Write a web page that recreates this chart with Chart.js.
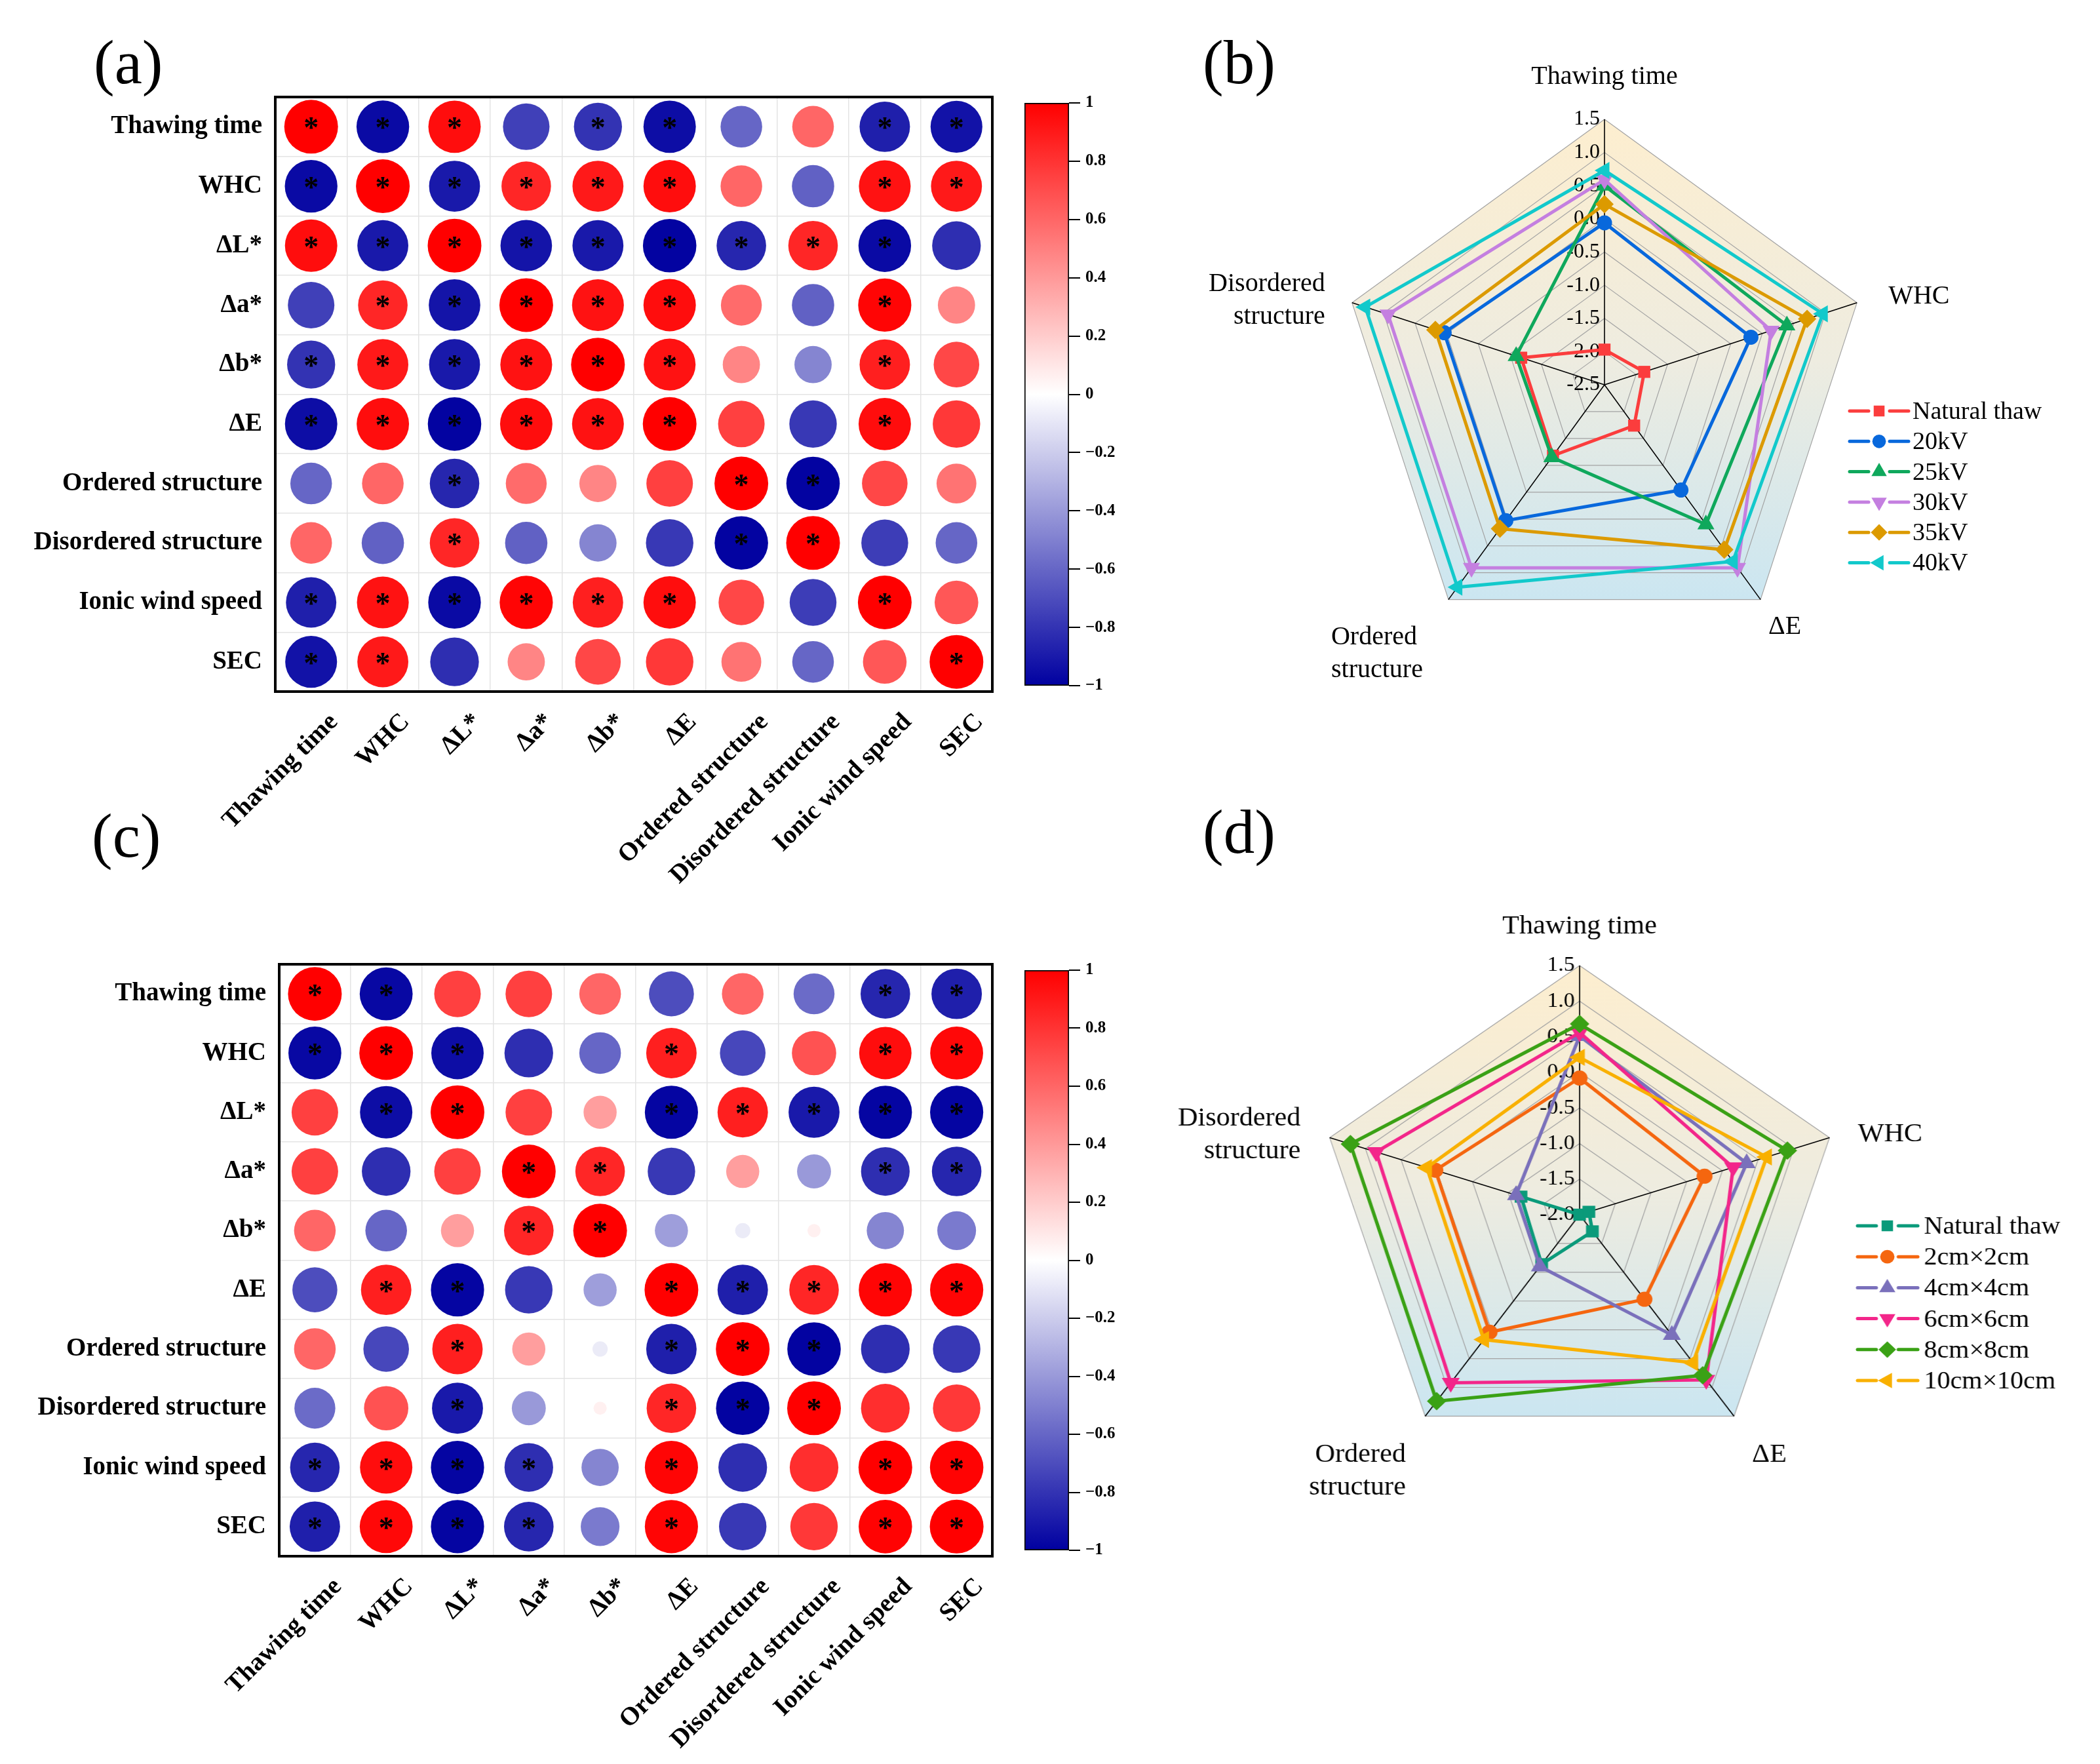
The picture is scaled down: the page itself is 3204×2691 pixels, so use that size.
<!DOCTYPE html>
<html>
<head>
<meta charset="utf-8">
<script src="https://cdn.jsdelivr.net/npm/chart.js@4.4.1/dist/chart.umd.min.js"></script>
<style>
  html, body { margin: 0; padding: 0; background: #fff; }
  body { width: 3204px; height: 2691px; position: relative; overflow: hidden;
         font-family: "Liberation Serif", "Times New Roman", serif; }
  canvas { position: absolute; }
  .tag { position: absolute; font-size: 95px; line-height: 95px; color: #000; }
</style>
</head>
<body>
<div class="tag" style="left:143px;top:48px">(a)</div>
<div class="tag" style="left:1835px;top:48px">(b)</div>
<div class="tag" style="left:140px;top:1228px">(c)</div>
<div class="tag" style="left:1835px;top:1222px">(d)</div>

<canvas id="matA" width="1555" height="1420" style="left:0;top:0"></canvas>
<canvas id="barA" width="180" height="960" style="left:1555px;top:120px"></canvas>
<canvas id="matC" width="1555" height="1361" style="left:0;top:1330px"></canvas>
<canvas id="barC" width="180" height="960" style="left:1555px;top:1443px"></canvas>
<canvas id="radB" width="1424" height="1060" style="left:1780px;top:40px"></canvas>
<canvas id="radD" width="1424" height="1000" style="left:1780px;top:1340px;transform:scaleX(1.055);transform-origin:630px 50%"></canvas>

<script>
/* ---- correlation matrices (a) and (c) ---- */
const vars = ['Thawing time', 'WHC', 'ΔL*', 'Δa*', 'Δb*', 'ΔE',
  'Ordered structure', 'Disordered structure', 'Ionic wind speed', 'SEC'];

const corrA = [
  [ 1.00, -0.96,  0.95, -0.75, -0.80, -0.95, -0.60,  0.60, -0.88, -0.93],
  [-0.96,  1.00, -0.90,  0.85,  0.90,  0.95,  0.60, -0.62,  0.93,  0.90],
  [ 0.95, -0.90,  1.00, -0.92, -0.90, -0.99, -0.85,  0.85, -0.96, -0.82],
  [-0.75,  0.85, -0.92,  1.00,  0.93,  0.95,  0.58, -0.62,  0.98,  0.48],
  [-0.80,  0.90, -0.90,  0.93,  1.00,  0.93,  0.48, -0.48,  0.88,  0.72],
  [-0.95,  0.95, -0.99,  0.95,  0.93,  1.00,  0.75, -0.78,  0.95,  0.78],
  [-0.60,  0.60, -0.85,  0.58,  0.48,  0.75,  1.00, -0.99,  0.72,  0.55],
  [ 0.60, -0.62,  0.85, -0.62, -0.48, -0.78, -0.99,  1.00, -0.76, -0.60],
  [-0.88,  0.93, -0.96,  0.98,  0.88,  0.95,  0.72, -0.76,  1.00,  0.66],
  [-0.93,  0.90, -0.82,  0.48,  0.72,  0.78,  0.55, -0.60,  0.66,  1.00],
];
const sigA = ['***.**..**', '******..**', '*********.', '.*****..*.', '******..*.',
  '******..*.', '..*...**..', '..*...**..', '******..*.', '**.......*'];

const corrC = [
  [ 1.00, -0.97,  0.75,  0.75,  0.60, -0.70,  0.60, -0.58, -0.85, -0.88],
  [-0.97,  1.00, -0.95, -0.82, -0.60,  0.88, -0.72,  0.68,  0.95,  0.97],
  [ 0.75, -0.95,  1.00,  0.75,  0.38, -0.98,  0.88, -0.90, -0.98, -0.98],
  [ 0.75, -0.82,  0.75,  1.00,  0.85, -0.78,  0.38, -0.40, -0.82, -0.85],
  [ 0.60, -0.60,  0.38,  0.85,  1.00, -0.38, -0.08,  0.06, -0.48, -0.52],
  [-0.70,  0.88, -0.98, -0.78, -0.38,  1.00, -0.88,  0.85,  0.98,  0.98],
  [ 0.60, -0.72,  0.88,  0.38, -0.08, -0.88,  1.00, -0.99, -0.82, -0.78],
  [-0.58,  0.68, -0.90, -0.40,  0.06,  0.85, -0.99,  1.00,  0.82,  0.78],
  [-0.85,  0.95, -0.98, -0.82, -0.48,  0.98, -0.82,  0.82,  1.00,  0.99],
  [-0.88,  0.97, -0.98, -0.85, -0.52,  0.98, -0.78,  0.78,  0.99,  1.00],
];
const sigC = ['**......**', '***..*..**', '.**..*****', '...**...**', '...**.....',
  '.**..*****', '..*..***..', '..*..***..', '****.*..**', '****.*..**'];

const cbarTicks = [1, 0.8, 0.6, 0.4, 0.2, 0, -0.2, -0.4, -0.6, -0.8, -1];

/* ---- radar (b): voltage ---- */
const radarAxes = ['Thawing time', 'WHC', 'ΔE', ['Ordered', 'structure'], ['Disordered', 'structure']];
const seriesB = ['Natural thaw', '20kV', '25kV', '30kV', '35kV', '40kV'];
const natThawB = [-1.97, -1.87, -1.74, -1.18, -1.18];
const kv20 = [-0.06, -0.18, -0.54, 0.03, 0.04];
const kv25 = [0.50, 0.39, 0.10, -1.15, -1.10];
const kv30 = [0.59, 0.14, 0.91, 0.91, 0.93];
const kv35 = [0.22, 0.71, 0.57, 0.18, 0.18];
const kv40 = [0.73, 0.96, 0.79, 1.27, 1.29];

/* ---- radar (d): sample size ---- */
const seriesD = ['Natural thaw', '2cm×2cm', '4cm×4cm', '6cm×6cm', '8cm×8cm', '10cm×10cm'];
const natThawD = [-2.0, -1.87, -1.71, -1.14, -1.18];
const cm2 = [-0.08, -0.25, -0.53, 0.04, 0.02];
const cm4 = [0.51, 0.34, 0.09, -1.10, -1.11];
const cm6 = [0.56, 0.15, 0.87, 0.92, 0.85];
const cm8 = [0.68, 0.91, 0.79, 1.24, 1.21];
const cm10 = [0.21, 0.62, 0.57, 0.17, 0.14];

Chart.defaults.font.family = '"Liberation Serif", "Times New Roman", serif';
Chart.defaults.color = '#000';

const SERIF = '"Liberation Serif", "Times New Roman", serif';
const MAX_R = 41;

function corrColor(v) {
  const t = Math.min(1, Math.abs(v));
  const w = Math.round(255 * (1 - t));
  if (v >= 0) return `rgb(255,${w},${w})`;
  return `rgb(${w},${w},${Math.round(255 - 95 * t)})`;
}

const corrDecor = {
  id: 'corrDecor',
  afterDatasetsDraw(chart) {
    const ctx = chart.ctx, a = chart.chartArea;
    const pts = chart.data.datasets[0].data;
    ctx.save();
    ctx.font = `bold 46px ${SERIF}`;
    ctx.textAlign = 'center';
    ctx.textBaseline = 'alphabetic';
    ctx.fillStyle = '#000';
    chart.getDatasetMeta(0).data.forEach((el, k) => {
      if (pts[k].s) ctx.fillText('*', el.x, el.y + 17);
    });
    ctx.lineWidth = 4;
    ctx.strokeStyle = '#000';
    ctx.strokeRect(a.left, a.top, a.width, a.height);
    ctx.restore();
  }
};

function matrixChart(id, corr, sig, pad, axisW) {
  const pts = [];
  corr.forEach((row, i) => row.forEach((v, j) => {
    pts.push({ x: vars[j], y: vars[i], r: MAX_R * Math.sqrt(Math.abs(v)), v, s: sig[i][j] === '*' });
  }));
  const tickFont = { family: SERIF, weight: 'bold', size: 39 };
  const grid = { offset: true, color: '#e4e4e4', lineWidth: 1.5, drawTicks: false };
  new Chart(document.getElementById(id), {
    type: 'bubble',
    data: { datasets: [{
      data: pts,
      backgroundColor: (c) => corrColor(c.raw.v),
      borderWidth: 0,
      hoverRadius: 0,
    }] },
    options: {
      responsive: false, animation: false, devicePixelRatio: 1,
      layout: { padding: pad },
      plugins: { legend: { display: false }, tooltip: { enabled: false } },
      scales: {
        x: {
          type: 'category', labels: vars, offset: true, grid, border: { display: false },
          ticks: { autoSkip: false, minRotation: 45, maxRotation: 45, padding: 24, labelOffset: 35,
            color: '#000', font: tickFont },
          afterFit: (s) => { s.height = 300; },
        },
        y: {
          type: 'category', labels: vars, offset: true, grid, border: { display: false },
          ticks: { autoSkip: false, padding: 20, color: '#000', font: tickFont },
          afterFit: (s) => { s.width = axisW; },
        },
      },
    },
    plugins: [corrDecor],
  });
}

function colorBar(id, pad) {
  new Chart(document.getElementById(id), {
    type: 'bar',
    data: { labels: [''], datasets: [{
      data: [[-1, 1]],
      backgroundColor: (c) => {
        const chart = c.chart;
        if (!chart.chartArea) return '#fff';
        const y = chart.scales.y;
        const g = chart.ctx.createLinearGradient(0, y.getPixelForValue(1), 0, y.getPixelForValue(-1));
        for (let k = 0; k <= 20; k++) g.addColorStop(k / 20, corrColor(1 - k / 10));
        return g;
      },
      borderColor: '#000', borderWidth: 2, borderSkipped: false,
      barPercentage: 1, categoryPercentage: 1,
    }] },
    options: {
      responsive: false, animation: false, devicePixelRatio: 1,
      layout: { padding: pad },
      plugins: { legend: { display: false }, tooltip: { enabled: false } },
      scales: {
        x: { display: false },
        y: {
          position: 'right', min: -1, max: 1,
          afterBuildTicks: (s) => { s.ticks = cbarTicks.map((v) => ({ value: v })); },
          ticks: {
            padding: 8, color: '#000', font: { family: SERIF, weight: 'bold', size: 25 },
            callback: (v) => String(+v.toFixed(1)).replace('-', '\u2212'),
          },
          grid: { drawOnChartArea: false, tickLength: 17, color: '#000', lineWidth: 2 },
          border: { display: false },
          afterFit: (s) => { s.width = 90; },
        },
      },
    },
  });
}

/* ---- radar helpers ---- */
const pentagonFill = {
  id: 'pentagonFill',
  beforeDraw(chart) {
    const s = chart.scales.r, ctx = chart.ctx;
    const n = chart.data.labels.length;
    const top = s.getPointPosition(0, s.drawingArea);
    const bot = s.getPointPosition(2, s.drawingArea);
    const g = ctx.createLinearGradient(0, top.y, 0, bot.y);
    g.addColorStop(0, '#fdeecf');
    g.addColorStop(0.5, '#eeece0');
    g.addColorStop(1, '#cbe6f1');
    ctx.save();
    ctx.beginPath();
    for (let i = 0; i < n; i++) {
      const p = s.getPointPosition(i, s.drawingArea);
      if (i) ctx.lineTo(p.x, p.y); else ctx.moveTo(p.x, p.y);
    }
    ctx.closePath();
    ctx.fillStyle = g;
    ctx.fill();
    ctx.restore();
  }
};

const radarText = {
  id: 'radarText',
  beforeDatasetsDraw(chart, args, o) {
    const s = chart.scales.r, ctx = chart.ctx;
    ctx.save();
    ctx.fillStyle = '#000';
    ctx.font = `32px ${SERIF}`;
    ctx.textAlign = 'right';
    ctx.textBaseline = 'middle';
    s.ticks.forEach((t) => {
      const p = s.getPointPositionForValue(0, t.value);
      ctx.fillText(t.value.toFixed(1), p.x - 7, p.y);
    });
    ctx.font = `40px ${SERIF}`;
    ctx.textBaseline = 'alphabetic';
    chart.data.labels.forEach((lab, i) => {
      const p = s.getPointPosition(i, s.drawingArea);
      const [align, dx, dy] = o.place[i];
      ctx.textAlign = align;
      [].concat(lab).forEach((line, k) => ctx.fillText(line, p.x + dx, p.y + dy + k * o.gap));
    });
    ctx.restore();
  }
};

const radarLegend = {
  id: 'radarLegend',
  afterDraw(chart, args, o) {
    const ctx = chart.ctx;
    ctx.save();
    ctx.font = `38px ${SERIF}`;
    ctx.textAlign = 'left';
    ctx.textBaseline = 'middle';
    chart.data.datasets.forEach((ds, i) => {
      const y = o.y0 + i * o.dy;
      ctx.strokeStyle = ds.borderColor;
      ctx.lineWidth = 5;
      ctx.lineCap = 'round';
      ctx.beginPath();
      ctx.moveTo(o.x0, y); ctx.lineTo(o.xm - 16, y);
      ctx.moveTo(o.xm + 16, y); ctx.lineTo(o.x1, y);
      ctx.stroke();
      ctx.fillStyle = ds.pointBackgroundColor;
      if (Chart.helpers && Chart.helpers.drawPoint) {
        Chart.helpers.drawPoint(ctx, { pointStyle: ds.pointStyle, rotation: ds.pointRotation,
          radius: ds.pointRadius * 0.9, borderWidth: 0 }, o.xm, y);
      }
      ctx.fillStyle = '#000';
      ctx.fillText(ds.label, o.tx, y + 2);
    });
    ctx.restore();
  }
};

const MARKS = [['rect', 0, 13], ['circle', 0, 11.5], ['triangle', 0, 15],
  ['triangle', 180, 15], ['rectRot', 0, 14], ['triangle', -90, 15]];

function radarChart(id, names, series, colors, min, max, pad, place, legend) {
  const datasets = series.map((d, i) => ({
    label: names[i], data: d,
    borderColor: colors[i], backgroundColor: colors[i],
    pointBackgroundColor: colors[i], pointBorderColor: colors[i], pointBorderWidth: 0,
    pointStyle: MARKS[i][0], pointRotation: MARKS[i][1], pointRadius: MARKS[i][2],
    pointHoverRadius: MARKS[i][2],
    borderWidth: 5, fill: false, order: 10 - i,
  }));
  new Chart(document.getElementById(id), {
    type: 'radar',
    data: { labels: radarAxes, datasets },
    options: {
      responsive: false, animation: false, devicePixelRatio: 1,
      layout: { padding: pad },
      elements: { line: { tension: 0 } },
      plugins: {
        legend: { display: false }, tooltip: { enabled: false },
        radarText: { place, gap: 50 },
        radarLegend: legend,
      },
      scales: {
        r: {
          min, max,
          ticks: { stepSize: 0.5, display: false },
          grid: { color: '#a3a3a3', lineWidth: 1.2 },
          angleLines: { color: '#000', lineWidth: 1.6 },
          pointLabels: { display: false },
        },
      },
    },
    plugins: [pentagonFill, radarText, radarLegend],
  });
}

matrixChart('matA', corrA, sigA, { top: 148, left: 0, right: 7, bottom: 65 }, 420);
colorBar('barA', { top: 37, left: 8, right: 14, bottom: 34 });
matrixChart('matC', corrC, sigC, { top: 141, left: 0, right: 6, bottom: 17 }, 426);
colorBar('barC', { top: 37, left: 8, right: 14, bottom: 38 });

radarChart('radB', seriesB, [natThawB, kv20, kv25, kv30, kv35, kv40],
  ['#fb3d3d', '#0868dc', '#0fa85c', '#c47fe0', '#dc9a00', '#12c9cb'],
  -2.5, 1.5, { left: 263, top: 142, right: 351, bottom: 108 },
  [['center', 0, -54], ['left', 48, 1], ['left', 12, 52], ['left', -179, 68], ['right', -41, -18]],
  { x0: 1042, x1: 1132, xm: 1087, tx: 1138, y0: 587, dy: 46.3 });

radarChart('radD', seriesD, [natThawD, cm2, cm4, cm6, cm8, cm10],
  ['#0a9a7a', '#f5660f', '#7a70bb', '#f3268a', '#3aa115', '#f9b000'],
  -2.0, 1.5, { left: 250, top: 133, right: 414, bottom: 107 },
  [['center', 0, -49], ['left', 41, 5], ['left', 26, 70], ['right', -28, 70], ['right', -42, -19]],
  { x0: 1032, x1: 1119, xm: 1075, tx: 1128, y0: 530, dy: 47.2 });
</script>
</body>
</html>
